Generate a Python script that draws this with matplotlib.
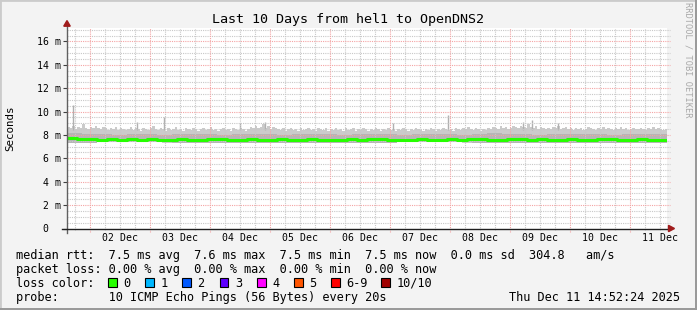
import numpy as np
import matplotlib

matplotlib.use("Agg")
import matplotlib.pyplot as plt
from matplotlib.patches import Rectangle, Polygon

W, H = 697, 310

# hours since start (Mon Dec 01 14:52:24), 240 h window
first_midnight = 9.1267
day_labels = ["02 Dec", "03 Dec", "04 Dec", "05 Dec", "06 Dec",
              "07 Dec", "08 Dec", "09 Dec", "10 Dec", "11 Dec"]

# smoke top (max ping, ms), hourly
smoke_top = [
    8.7, 8.6, 8.8, 8.5, 8.7, 8.6, 8.9, 8.6, 8.5, 8.7, 8.6, 8.8,
    8.6, 8.5, 8.7, 8.6, 8.4, 8.6, 8.5, 8.7, 8.4, 8.6, 8.5, 8.4,
    8.5, 8.7, 8.4, 8.6, 8.5, 8.3, 8.6, 8.5, 8.4, 8.6, 8.8, 8.5,
    8.4, 8.6, 8.5, 8.3, 8.6, 8.4, 8.5, 8.7, 8.4, 8.5, 8.3, 8.6,
    8.5, 8.4, 8.6, 8.5, 8.3, 8.5, 8.6, 8.4, 8.5, 8.7, 8.4, 8.5,
    8.3, 8.5, 8.6, 8.4, 8.5, 8.3, 8.6, 8.5, 8.4, 8.6, 8.5, 8.3,
    8.5, 8.7, 8.6, 8.8, 8.6, 8.7, 8.9, 8.6, 8.8, 8.5, 8.7, 8.6,
    8.5, 8.4, 8.6, 8.3, 8.5, 8.6, 8.4, 8.5, 8.3, 8.6, 8.4, 8.5,
    8.6, 8.4, 8.5, 8.3, 8.6, 8.5, 8.4, 8.6, 8.3, 8.5, 8.4, 8.6,
    8.4, 8.5, 8.3, 8.6, 8.4, 8.5, 8.6, 8.3, 8.5, 8.4, 8.6, 8.5,
    8.3, 8.5, 8.4, 8.6, 8.5, 8.3, 8.5, 8.4, 8.6, 8.4, 8.5, 8.3,
    8.5, 8.4, 8.6, 8.5, 8.3, 8.5, 8.4, 8.6, 8.5, 8.4, 8.3, 8.5,
    8.4, 8.6, 8.5, 8.3, 8.5, 8.4, 8.6, 8.5, 8.4, 8.5, 8.3, 8.6,
    8.5, 8.4, 8.6, 8.5, 8.7, 8.5, 8.4, 8.6, 8.5, 8.3, 8.5, 8.4,
    8.6, 8.5, 8.7, 8.6, 8.5, 8.8, 8.6, 8.7, 8.5, 8.6, 8.8, 8.7,
    8.6, 8.8, 8.7, 8.6, 8.9, 8.7, 8.6, 8.8, 8.5, 8.7, 8.6, 8.5,
    8.6, 8.5, 8.7, 8.6, 8.8, 8.5, 8.6, 8.7, 8.5, 8.6, 8.4, 8.6,
    8.5, 8.6, 8.4, 8.5, 8.7, 8.6, 8.5, 8.4, 8.6, 8.5, 8.7, 8.5,
    8.6, 8.5, 8.4, 8.6, 8.5, 8.7, 8.5, 8.6, 8.4, 8.5, 8.6, 8.5,
    8.5, 8.6, 8.5, 8.4, 8.6, 8.5, 8.7, 8.5, 8.6, 8.5, 8.4, 8.5,
]

# darker inner smoke band top, every 6 h
smoke_mid = [8.15, 8.05, 8.12, 8.00, 8.10, 8.12, 8.02, 8.10, 8.05, 8.12,
             8.00, 8.10, 8.12, 8.04, 8.00, 8.10, 8.12, 8.06, 8.00, 8.10,
             8.05, 8.12, 8.00, 8.10, 8.12, 8.04, 8.00, 8.10, 8.15, 8.10,
             8.12, 8.02, 8.12, 8.06, 8.10, 8.12, 8.00, 8.10, 8.05, 8.12]

# smoke bottom (min ping), per day
smoke_low = [7.35, 7.36, 7.35, 7.34, 7.35, 7.35, 7.36, 7.35, 7.34, 7.35]

# median rtt every 4 h
median = [7.70, 7.64, 7.62, 7.60, 7.62, 7.61, 7.63, 7.60, 7.62, 7.61,
          7.60, 7.62, 7.61, 7.60, 7.62, 7.63, 7.61, 7.60, 7.62, 7.61,
          7.60, 7.62, 7.60, 7.61, 7.62, 7.60, 7.61, 7.60, 7.62, 7.61,
          7.63, 7.62, 7.60, 7.61, 7.60, 7.62, 7.61, 7.60, 7.62, 7.61,
          7.63, 7.62, 7.61, 7.60, 7.62, 7.63, 7.61, 7.62, 7.60, 7.61,
          7.62, 7.60, 7.61, 7.63, 7.62, 7.60, 7.61, 7.62, 7.60, 7.61]

# single-sample spikes
spike_hours = [2.2, 27.9, 38.6, 69.2, 79.2, 130.4, 152.5, 182.4, 185.9, 196.4]
spike_ms = [10.6, 9.1, 9.5, 9.0, 9.1, 9.0, 9.7, 9.1, 9.3, 9.0]

loss_labels = ["0", "1", "2", "3", "4", "5", "6-9", "10/10"]
loss_colors = ["#26ff00", "#00b8ff", "#0059ff", "#5e00ff",
               "#ff00ff", "#ff5500", "#ff0000", "#a10000"]

MONO = "DejaVu Sans Mono"
plt.rcParams["font.family"] = MONO


def step(vals, span=240.0):
    v = np.asarray(vals, dtype=float)
    t = np.linspace(0, span, len(v) + 1)
    return t, np.append(v, v[-1])


def fx(px):
    return px / W


def fy(py):
    return 1 - py / H


fig = plt.figure(figsize=(W / 100, H / 100), dpi=100)
fig.patch.set_facecolor("#f3f3f3")
ax = fig.add_axes([fx(67), fy(228.5), 600 / W, 200.2 / H])
ax.set_facecolor("white")
ax.set_xlim(0, 240)
ax.set_ylim(0, 17.12)
for s in ax.spines.values():
    s.set_visible(False)

# smoke
t, top = step(smoke_top)
t_low, low = step(smoke_low)
low_i = np.interp(t, t_low, low)
ax.fill_between(t, low_i, top, step="post", color="#cbcbcb", lw=0, zorder=1)
t_mid, mid = step(smoke_mid)
ax.fill_between(t_mid, np.interp(t_mid, t_low, low), mid, step="post",
                color="#b6b6b6", lw=0, zorder=1.2)
ax.vlines(spike_hours, 8.4, spike_ms, color="#b0b0b0", lw=1.0, zorder=1.1)

# grid
dot = (0, (1, 1))
minor_y = [v for v in np.arange(0.5, 17.1, 0.5) if v % 2]
ax.hlines(minor_y, 0, 241, color="#c8c8c8", lw=0.8, linestyles=dot,
          zorder=2, clip_on=False)
ax.hlines(np.arange(2, 17, 2), 0, 241, color="#f4a4a4", lw=0.8,
          linestyles=dot, zorder=2.1, clip_on=False)
midnights = first_midnight + 24 * np.arange(10)
quarters = [q for q in np.arange(first_midnight - 18, 240, 6)
            if q > 0 and min(abs(q - midnights)) > 1]
ax.vlines(quarters, -0.15, 17.12, color="#c8c8c8", lw=0.8, linestyles=dot,
          zorder=2, clip_on=False)
ax.vlines(midnights, -0.3, 17.12, color="#f4a4a4", lw=0.8, linestyles=dot,
          zorder=2.1, clip_on=False)

# median line
t_med, med = step(median)
ax.step(t_med, med, where="post", color="#26ff00", lw=2.2, zorder=3)

# axes with arrows
ax.plot([0, 0], [-0.35, 17.3], color="#606060", lw=1, zorder=4, clip_on=False)
ax.plot([-2, 241], [0, 0], color="#202020", lw=1, zorder=4, clip_on=False)
ax.add_patch(Polygon([[-1.3, 17.3], [1.3, 17.3], [0, 17.78]], closed=True,
                     color="#a01c1c", zorder=5, clip_on=False))
ax.add_patch(Polygon([[240.6, -0.27], [240.6, 0.27], [243.0, 0]], closed=True,
                     color="#a01c1c", zorder=5, clip_on=False))

ax.set_xticks(midnights + 12)
ax.set_xticklabels(day_labels)
ax.tick_params(axis="x", length=0, pad=3.2, labelsize=7.1)
ax.set_yticks(np.arange(0, 17, 2))
ax.set_yticklabels(["0  "] + [f"{v} m" for v in range(2, 17, 2)])
ax.tick_params(axis="y", length=3, width=0.8, color="#404040", pad=1.6,
               labelsize=7.1)

# texts
fig.text(fx(348), fy(19), "Last 10 Days from hel1 to OpenDNS2",
         ha="center", va="center", fontsize=9.6)
fig.text(fx(10), fy(128), "Seconds", rotation=90, ha="center", va="center",
         fontsize=7.8)
fig.text(fx(688), fy(60), "RRDTOOL / TOBI OETIKER", rotation=270,
         ha="center", va="center", fontsize=6.2, color="#a8a8a8")

leg = 8.55
fig.text(fx(16), fy(254.3),
         "median rtt:  7.5 ms avg  7.6 ms max  7.5 ms min  7.5 ms now  "
         "0.0 ms sd  304.8   am/s",
         va="center_baseline", fontsize=leg)
fig.text(fx(16), fy(268.3),
         "packet loss: 0.00 % avg  0.00 % max  0.00 % min  0.00 % now",
         va="center_baseline", fontsize=leg)
fig.text(fx(16), fy(282), "loss color:", va="center_baseline", fontsize=leg)
fig.text(fx(16), fy(296), "probe:       10 ICMP Echo Pings (56 Bytes) every 20s",
         va="center_baseline", fontsize=leg)
fig.text(fx(680), fy(296), "Thu Dec 11 14:52:24 2025", ha="right",
         va="center_baseline", fontsize=leg)

box_x = [108, 145, 182, 219.5, 257, 294, 331, 381]
for bx, lab, col in zip(box_x, loss_labels, loss_colors):
    fig.patches.append(Rectangle((fx(bx), fy(286.5)), 8.5 / W, 8.5 / H,
                                 transform=fig.transFigure, facecolor=col,
                                 edgecolor="black", lw=0.8))
    fig.text(fx(bx + 15.5), fy(282), lab, va="center_baseline", fontsize=leg)

# frame shading
fig.patches.append(Rectangle((0, 0), 1, 1, transform=fig.transFigure,
                             fill=False, edgecolor="#cbcbcb", lw=2))
fig.patches.append(Rectangle((fx(W - 2), 0), 2 / W, 1, transform=fig.transFigure,
                             color="#9a9a9a", lw=0))
fig.patches.append(Rectangle((0, 0), 1, 2 / H, transform=fig.transFigure,
                             color="#9a9a9a", lw=0))

fig.savefig("out.png", dpi=100, facecolor=fig.get_facecolor())
